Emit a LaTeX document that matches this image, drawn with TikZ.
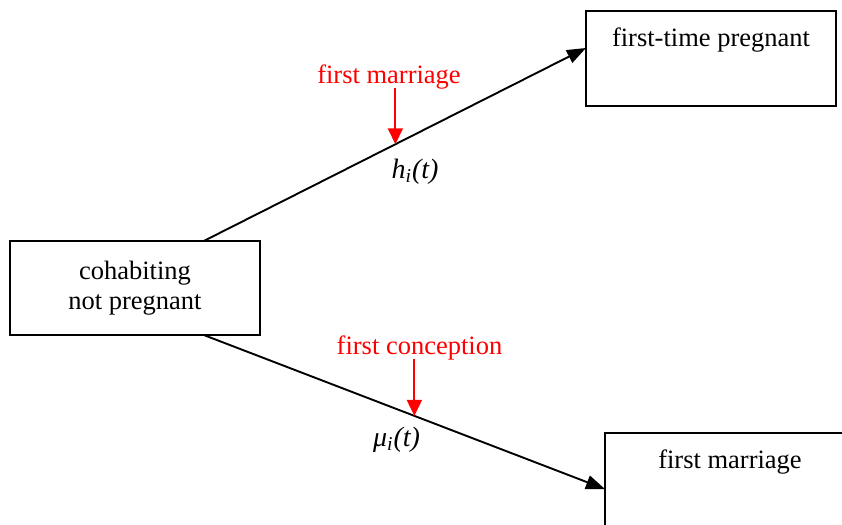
\documentclass[tikz,border=0pt]{standalone}
\usepackage{fontspec}
\setmainfont{Liberation Serif}
\usetikzlibrary{arrows.meta,calc}
\begin{document}
\begin{tikzpicture}[x=0.5pt,y=-0.5pt,
  every node/.style={font=\fontsize{13.25}{15}\selectfont},
  box/.style={draw, line width=0.9pt, inner sep=0pt, outer sep=0pt, anchor=north west,
    minimum width=125pt},
  topbox/.style={box, text height=17.5pt, text depth=30pt},
  conn/.style={draw, line width=0.95pt, -{Triangle[length=9.5pt,width=7pt]}},
  redarr/.style={draw=red, line width=1pt, -{Triangle[length=8pt,width=7.5pt]}},
  redlab/.style={text=red, anchor=base, inner sep=0pt},
  ratelab/.style={anchor=base, inner sep=0pt, font=\fontsize{14}{16}\selectfont\itshape}
]
\useasboundingbox (0,0) rectangle (842,525);

% boxes
\node[box, minimum height=47pt, align=center] (cohab) at (10,241) {cohabiting\\not pregnant};
\node[topbox] (preg) at (586,11) {first-time pregnant};
\node[topbox] (marr) at (605,433) {first marriage};

% connector end points on the box edges
\coordinate (s1) at ($(cohab.north west)!0.7751!(cohab.north east)$);
\coordinate (e1) at ($(preg.north west)!0.3895!(preg.south west)$);
\coordinate (s2) at ($(cohab.south west)!0.7751!(cohab.south east)$);
\coordinate (e2) at ($(marr.north west)!0.59!(marr.south west)$);

\draw[conn] (s1) -- (e1);
\draw[conn] (s2) -- (e2);

% points on the connectors hit by the red arrows
\coordinate (h1) at ($(s1)!0.5013!(e1)$);
\coordinate (h2) at ($(s2)!0.5249!(e2)$);

% red labels and arrows
\node[redlab] (lab1) at (389,83) {first marriage};
\node[redlab] (lab2) at (419.5,354) {first conception};
\coordinate (t1) at (h1 |- 0,88);
\coordinate (t2) at (h2 |- 0,359);
\draw[redarr] (t1) -- (h1);
\draw[redarr] (t2) -- (h2);

% rate labels
\node[ratelab] (hrate) at (415,178) {h\textsubscript{i}(t)};
\node[ratelab] (murate) at (396.5,446) {μ\textsubscript{i}(t)};
\end{tikzpicture}
\end{document}
